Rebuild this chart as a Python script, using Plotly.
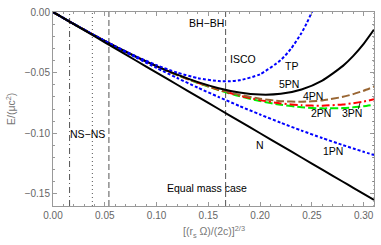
import plotly.graph_objects as go

# ---- data ----
x_pn = [0.0, 0.02, 0.04, 0.06, 0.08, 0.10, 0.12, 0.14, 0.16, 0.18, 0.20,
        0.22, 0.24, 0.26, 0.28, 0.29, 0.30, 0.31]
E_N = [0.0, -0.010, -0.020, -0.030, -0.040, -0.050, -0.060, -0.070, -0.080,
       -0.090, -0.100, -0.110, -0.120, -0.130, -0.140, -0.145, -0.150, -0.155]
E_1PN = [0.0, -0.00985, -0.01938, -0.02861, -0.03753, -0.04615, -0.05445,
         -0.06245, -0.07013, -0.07751, -0.08458, -0.09135, -0.09780, -0.10395,
         -0.10979, -0.11259, -0.11531, -0.11796]
E_2PN = [0.0, -0.00984, -0.01929, -0.02831, -0.03682, -0.04475, -0.05205,
         -0.05863, -0.06443, -0.06940, -0.07345, -0.07653, -0.07856, -0.07948,
         -0.07923, -0.07864, -0.07773, -0.07649]
E_3PN = [0.0, -0.00984, -0.01929, -0.02831, -0.03680, -0.04471, -0.05195,
         -0.05844, -0.06412, -0.06889, -0.07267, -0.07539, -0.07695, -0.07727,
         -0.07626, -0.07522, -0.07381, -0.07203]
E_4PN = [0.0, -0.00984, -0.01929, -0.02830, -0.03679, -0.04467, -0.05185,
         -0.05825, -0.06373, -0.06820, -0.07151, -0.07351, -0.07405, -0.07294,
         -0.06997, -0.06773, -0.06494, -0.06158]
E_5PN = [0.0, -0.00984, -0.01929, -0.02830, -0.03678, -0.04462, -0.05170,
         -0.05785, -0.06284, -0.06640, -0.06811, -0.06750, -0.06392, -0.05656,
         -0.04443, -0.03621, -0.02631, -0.01454]

x_tp = [0.0, 0.02, 0.04, 0.06, 0.08, 0.10, 0.12, 0.14, 0.16, 0.17, 0.18,
        0.20, 0.22, 0.23, 0.24, 0.245, 0.25, 0.255]
E_TP = [0.0, -0.00984, -0.01928, -0.02820, -0.03645, -0.04382, -0.05000,
        -0.05459, -0.05701, -0.05714, -0.05637, -0.05132, -0.03961, -0.03013,
        -0.01729, -0.00929, 0.0, 0.01079]

ns_lines = [0.016, 0.038, 0.054]     # NS-NS band markers
isco_x = 0.1667                       # BH-BH / ISCO
x_end = 0.31

x_ticks = [0.00, 0.05, 0.10, 0.15, 0.20, 0.25, 0.30]
y_ticks = [0.00, -0.05, -0.10, -0.15]

FONT = "Liberation Sans, Arial, sans-serif"
fig = go.Figure()

def add(x, y, color, dash, width=2):
    fig.add_trace(go.Scatter(x=x, y=y, mode="lines",
                             line=dict(color=color, width=width, dash=dash,
                                       shape="spline", smoothing=0.6),
                             showlegend=False, hoverinfo="skip"))

add(x_pn, E_2PN, "#00EE00", "8px,3px")
add(x_pn, E_3PN, "#FF0000", "8px,3px,2px,3px")
add(x_pn, E_4PN, "#996633", "8px,3px")
add(x_pn, E_5PN, "#000000", "solid")
add(x_pn, E_1PN, "#0000FF", "3px,2px")
add(x_tp, E_TP, "#0000FF", "3px,2px")
add(x_pn, E_N, "#000000", "solid")

shapes = []
line_dashes = ["6px,3px,1px,3px", "1px,3px", "6px,3px"]
for xv, d in zip(ns_lines, line_dashes):
    shapes.append(dict(type="line", xref="x", yref="paper", x0=xv, x1=xv,
                       y0=0, y1=1, layer="below",
                       line=dict(color="#555555", width=1, dash=d)))
shapes.append(dict(type="line", xref="x", yref="paper", x0=isco_x, x1=isco_x,
                   y0=0, y1=1, layer="below",
                   line=dict(color="#555555", width=1, dash="6px,3px")))
shapes.append(dict(type="line", xref="x", yref="paper", x0=x_end, x1=x_end,
                   y0=0, y1=1,
                   line=dict(color="#666666", width=1, dash="1px,3px")))
# leader line for 3PN label
shapes.append(dict(type="line", xref="x", yref="y", x0=0.2948, y0=-0.0802,
                   x1=0.2965, y1=-0.0749, line=dict(color="#000000", width=0.8)))

labels = [
    ("BH\u2212BH", 0.1483, -0.0088),
    ("ISCO", 0.1839, -0.0390),
    ("TP", 0.2301, -0.0446),
    ("5PN", 0.2282, -0.0597),
    ("4PN", 0.2513, -0.0693),
    ("2PN", 0.2590, -0.0836),
    ("3PN", 0.2888, -0.0836),
    ("1PN", 0.2705, -0.1146),
    ("N", 0.2002, -0.1099),
    ("NS\u2212NS", 0.0337, -0.1003),
    ("Equal mass case", 0.1492, -0.1449),
]
annotations = [dict(text=t, x=x, y=y, xref="x", yref="y", showarrow=False,
                    font=dict(family=FONT, size=10.5, color="#000000"))
               for t, x, y in labels]
annotations.append(dict(text="[(r<sub>s</sub> \u03a9)/(2c)]<sup>2/3</sup>",
                        x=0.5, y=-0.135, xref="paper", yref="paper",
                        showarrow=False, yanchor="middle",
                        font=dict(family=FONT, size=10.5, color="#777777")))
annotations.append(dict(text="E/(\u03bcc<sup>2</sup>)", textangle=-90,
                        x=-0.134, y=0.5, xref="paper", yref="paper",
                        showarrow=False, xanchor="center",
                        font=dict(family=FONT, size=10.5, color="#777777")))

axis_common = dict(showgrid=False, zeroline=False, showline=True,
                   linecolor="#999999", linewidth=1, mirror="allticks",
                   ticks="inside", ticklen=4, tickcolor="#999999",
                   ticklabeloverflow="allow",
                   tickfont=dict(family=FONT, size=10, color="#666666"))

fig.update_layout(
    width=381, height=245,
    margin=dict(l=53, r=6, t=6, b=39),
    paper_bgcolor="white", plot_bgcolor="white",
    shapes=shapes, annotations=annotations,
    xaxis=dict(range=[0, x_end], tickvals=x_ticks,
               ticktext=[f"{v:.2f}" for v in x_ticks],
               minor=dict(ticks="inside", ticklen=2, dtick=0.01,
                          tickcolor="#999999", showgrid=False),
               **axis_common),
    yaxis=dict(range=[-0.16, 0], tickvals=y_ticks,
               ticktext=["0.00" if v == 0 else f"\u2212{abs(v):.2f}" for v in y_ticks],
               minor=dict(ticks="inside", ticklen=2, dtick=0.01,
                          tickcolor="#999999", showgrid=False),
               **axis_common),
)

fig.write_html("out.html",
               config={"displayModeBar": False, "staticPlot": True},
               post_script="document.body.style.margin='0px';"
                           "document.body.style.overflow='hidden';")
